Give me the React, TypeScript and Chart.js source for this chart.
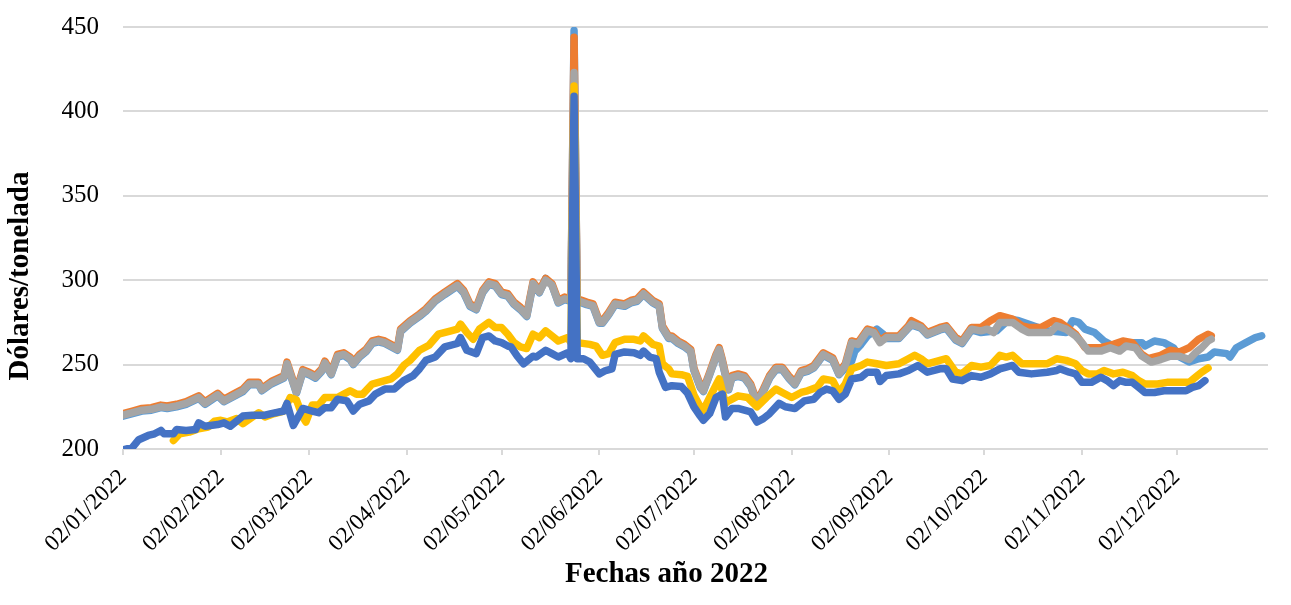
import React, { useEffect, useRef } from 'react';
import { Chart, registerables } from 'chart.js';

Chart.register(...registerables);

// ---- Ejes y textos ----
const fechaOrigen = '02/01/2022';
const fechaFinEje = '31/12/2022';
const etiquetasFechas = [
  '02/01/2022', '02/02/2022', '02/03/2022', '02/04/2022', '02/05/2022', '02/06/2022',
  '02/07/2022', '02/08/2022', '02/09/2022', '02/10/2022', '02/11/2022', '02/12/2022',
];
const tituloEjeX = 'Fechas año 2022';
const tituloEjeY = 'Dólares/tonelada';
const yMin = 200;
const yMax = 450;
const yPaso = 50;

// ---- Series (días desde 02/01/2022, valores en dólares/tonelada) ----
const diasGris = [0,3,6,9,12,14,17,20,24,26,30,32,35,38,40,43,44,47,51,52,55,57,59,61,63,64,66,68,70,72,73,75,77,79,81,83,87,88,91,94,96,99,102,106,108,110,112,114,116,118,120,122,124,126,128,130,132,134,136,138,140,142,143,144,147,149,151,152,154,156,159,161,163,165,168,170,171,173,174,176,178,180,181,183,184,186,188,189,190,192,193,195,197,199,201,203,205,207,209,211,213,215,217,219,222,225,227,229,231,233,236,238,240,242,246,249,250,253,255,259,261,264,266,269,272,274,276,278,282,285,287,291,294,296,299,302,304,306,310,313,316,318,321,323,326,329,332,335,338,340,342,344,345];
const valGris = [220,221.5,223,223.5,225,224.5,225.5,227,230.5,227,232,228.5,231.5,234.5,238.5,238.5,235,239,242.5,250.5,233.5,246,244.5,242.5,246.5,251,244.5,255,256,253.5,250.5,255,258,263,264,263,259,270,275,279,282,288,292,297,293,285,283,293,298,297,292,291,286,283,279,298,293,300,297,287,289,288,423,288,286,285,275,275,280,286,285,287,288,292,287,285,272,266,266,263,261,258,247,237,234.5,244.5,255,259,252,235.5,242.5,243.5,242.5,237.5,227,234.5,242.5,247.5,247.5,242.5,238.5,245.5,246.5,248.5,256,253,244.5,249.5,263,262,270,269,263,266,266,272,274,272,268,271,272,265,263,271,270,271,269,275,275,271,269,269,269,273,271,267,263,258,258,260,258,261,260,255,251.5,253,255,255,253,257,260,264,265];

const diasNaranja = [0,3,6,9,12,14,17,20,24,26,30,32,35,38,40,43,44,47,51,52,55,57,59,61,63,64,66,68,70,72,73,75,77,79,81,83,87,88,91,94,96,99,102,106,108,110,112,114,116,118,120,122,124,126,128,130,132,134,136,138,140,142,143,144,147,149,151,152,154,156,159,161,163,165,168,170,171,173,174,176,178,180,181,183,184,186,188,189,190,192,193,195,197,199,201,203,205,207,209,211,213,215,217,219,222,225,227,229,231,233,236,238,240,242,246,249,250,253,255,259,261,264,266,269,272,275,278,282,285,287,291,295,297,300,302,305,310,314,317,320,323,325,329,332,335,338,341,344,345];
const valNaranja = [221,222.5,224,224.5,226,225.5,226.5,228,231.5,228,233,229.5,232.5,235.5,239.5,239.5,236,240,243.5,251.5,234.5,247,245.5,243.5,247.5,252,245.5,256,257,254.5,251.5,256,259,264,265,264,260,271,276,280,283,289,293,298,294,286,284,294,299,298,293,292,287,284,280,299,294,301,298,288,290,289,444,289,287,286,276,276,281,287,286,288,289,293,288,286,273,267,267,264,262,259,248,238,235.5,245.5,256,260,253,236.5,243.5,244.5,243.5,238.5,228,235.5,243.5,248.5,248.5,243.5,239.5,246.5,247.5,249.5,257,254,245.5,250.5,264,263,271,270,264,267,267,273,276,273,269,272,273,266,264,272,272,276,279,277,273,272,272,276,275,271,268,260,260,262,264,263,256,253.5,255.5,258.5,257.5,260,265,268,267];

const diasCeleste = [0,3,6,9,12,14,17,20,24,26,30,32,35,38,40,43,44,47,51,52,55,57,59,61,63,64,66,68,70,72,73,75,77,79,81,83,87,88,91,94,96,99,102,106,108,110,112,114,116,118,120,122,124,126,128,130,132,134,136,138,140,142,143,144,147,149,151,152,154,156,159,161,163,165,168,170,171,173,174,176,178,180,181,183,184,186,188,189,190,192,193,195,197,199,201,203,205,207,209,211,213,215,217,219,222,225,227,229,231,232,234,236,239,241,242,246,249,250,253,255,259,261,264,266,269,272,277,281,284,287,293,299,301,303,305,308,311,314,317,320,323,324,327,330,333,335,338,341,344,346,350,351,353,356,359,361];
const valCeleste = [219.5,221,222.5,223,224.5,224,225,226.5,230,226.5,231.5,228,231,234,238,238,234.5,238.5,242,250,233,245.5,244,242,246,250.5,244,254.5,255.5,253,250,254.5,257.5,262.5,263.5,262.5,258.5,269.5,274.5,278.5,281.5,287.5,291.5,296.5,292.5,284.5,282.5,292.5,297.5,296.5,291.5,290.5,285.5,282.5,278.5,297.5,292.5,301,297,286.5,288.5,287.5,448,287.5,285.5,284.5,274.5,274.5,279.5,285.5,284.5,286.5,287.5,291.5,286.5,284.5,271.5,265.5,265.5,262.5,260.5,257.5,246.5,236.5,234,244,254.5,258.5,251.5,235,242,243,242,237,226.5,234,242,247,247,242,238,245,246,248,255.5,252.5,244,248,252,258,262,267,271,268,265.5,265.5,271.5,273.5,271.5,267.5,270.5,271.5,264.5,262.5,270.5,269,270,277,276,274,270,269,276,275,271,269,264,261,261,263,263,261,264,263,260,254.5,251.5,253.5,254.5,257.5,256.5,254.5,260,263,266,267];

const diasAmarillo = [16,18,21,24,27,29,31,33,36,38,43,45,48,51,53,55,57,58,60,62,64,68,70,72,74,76,79,81,85,87,89,91,94,97,100,104,106,107,109,111,113,116,118,120,122,124,126,128,130,132,134,136,138,141,142,143,144,148,150,152,154,156,159,162,164,165,168,170,171,173,174,177,179,181,183,184,186,189,191,192,195,198,201,204,207,209,212,215,217,220,222,225,227,229,231,234,236,239,242,246,249,251,253,255,259,261,264,266,269,272,275,278,280,282,285,288,293,296,299,302,304,306,309,311,314,317,320,322,324,328,331,335,338,340,342,344];
const valAmarillo = [205,209,210,212,213,216.5,217,216,218,215,221.5,219,221,222.5,230.5,229,219,216,226,226,230.5,230.5,232.5,234.5,232.5,232.5,238.5,239.5,241.5,244.5,249.5,252.5,258.5,261.5,268,270,271,274,269,265,271,275,272,272,268,263,260.5,259.5,268,266,270,267,264,266,263,415,263,262,261,255.5,256.5,263,265,265,264,267,262,261,250.5,247.5,244.5,244,243,232,225,223,230.5,241.5,227,228.5,231.5,230.5,225,230.5,235.5,233.5,230.5,233.5,234.5,236.5,241.5,240.5,233.5,238.5,247.5,249.5,251.5,250.5,249.5,250.5,253.5,255.5,253.5,250.5,252.5,253.5,245.5,244.5,249.5,248.5,249.5,255.5,254.5,255.5,250.5,250.5,250.5,253.5,252.5,250.5,246.5,244.5,244.5,246.5,244.5,245.5,243.5,240.5,238.5,238.5,239.5,239.5,239.5,242.5,245.5,248];

const diasAzul = [0,3,5,8,10,12,13,16,17,20,23,24,26,30,32,34,38,41,45,47,51,52,54,57,60,62,64,66,68,71,73,75,78,80,83,86,89,92,94,96,99,102,106,107,109,112,114,116,118,120,122,123,125,127,130,131,134,136,138,141,142,143,144,146,148,151,153,155,156,159,162,164,165,167,169,170,172,174,177,179,181,183,184,186,188,190,191,193,195,197,199,201,203,205,208,210,213,216,219,221,223,225,227,229,231,234,236,239,240,242,246,249,252,255,259,261,263,266,269,272,275,278,280,282,284,288,293,296,297,300,302,304,307,310,312,314,316,318,320,322,324,327,330,333,337,339,341,343];
const valAzul = [199.5,201,205.5,208,209,211,209,209,211.5,211,211.5,215.5,213.5,214.5,215.5,213.5,219.5,220,220,221,222.5,227,214,224,222.5,221.5,224.5,224.5,229.5,228.5,222.5,226.5,228.5,232.5,235.5,235.5,240.5,243.5,247.5,252.5,254.5,260.5,262.5,266,258.5,256.5,266,267,264,263,261,260.5,255,250.5,255,254.5,258.5,256.5,254.5,257,253.5,409,253.5,253.5,251.5,244.5,246.5,247.5,256,257.5,257,255.5,258,254.5,253.5,245.5,236.5,237.5,237,233,225,219.5,217,221,230.5,232.5,219,224,224,223,222,216,218,221,227,225,224,228.5,229.5,233.5,235.5,234.5,229.5,232.5,241.5,242.5,245.5,245.5,240,243.5,244.5,246.5,249.5,245.5,247.5,247.5,241.5,240.5,243.5,242.5,244.5,247.5,248.5,249.5,245.5,244.5,245.5,246.5,247.5,245.5,244.5,239.5,239.5,242.5,240.5,237.5,240.5,239.5,239.5,236.5,233.5,233.5,234.5,234.5,234.5,236.5,237.5,240.5];

const FUENTE = '"Liberation Serif", "Times New Roman", serif';

function diaDesdeOrigen(fecha: string): number {
  const [d, m, a] = fecha.split('/').map(Number);
  const [d0, m0, a0] = fechaOrigen.split('/').map(Number);
  return Math.round((Date.UTC(a, m - 1, d) - Date.UTC(a0, m0 - 1, d0)) / 86400000);
}

function puntos(dias: number[], valores: number[]) {
  return dias.map((x, i) => ({ x, y: valores[i] }));
}

const titulosPlugin = {
  id: 'titulosEjes',
  afterDraw(chart: any) {
    const { ctx, chartArea } = chart;
    ctx.save();
    ctx.fillStyle = '#000000';
    ctx.font = `bold 29px ${FUENTE}`;
    ctx.textAlign = 'center';
    ctx.textBaseline = 'alphabetic';
    const cx = (chartArea.left + chartArea.right) / 2 - 29;
    ctx.fillText(tituloEjeX, cx, chartArea.bottom + 133);
    ctx.translate(28, (chartArea.top + chartArea.bottom) / 2 + 38);
    ctx.rotate(-Math.PI / 2);
    ctx.fillText(tituloEjeY, 0, 0);
    ctx.restore();
  },
};

export default function App() {
  const ref = useRef<HTMLCanvasElement>(null);

  useEffect(() => {
    const canvas = ref.current;
    if (!canvas) return;
    const posTicks = etiquetasFechas.map(diaDesdeOrigen);
    const etiquetaPorDia: Record<number, string> = {};
    posTicks.forEach((p, i) => { etiquetaPorDia[p] = etiquetasFechas[i]; });

    const estilo = (color: string) => ({
      borderColor: color,
      backgroundColor: color,
      borderWidth: 7.5,
      pointRadius: 0,
      pointHoverRadius: 0,
      tension: 0,
      fill: false,
      borderJoinStyle: 'round' as const,
      borderCapStyle: 'round' as const,
    });

    const chart = new Chart(canvas, {
      type: 'line',
      data: {
        datasets: [
          { label: 'Serie 5', data: puntos(diasAzul, valAzul), ...estilo('#4472C4') },
          { label: 'Serie 4', data: puntos(diasAmarillo, valAmarillo), ...estilo('#FFC000') },
          { label: 'Serie 3', data: puntos(diasGris, valGris), ...estilo('#A5A5A5') },
          { label: 'Serie 2', data: puntos(diasNaranja, valNaranja), ...estilo('#ED7D31') },
          { label: 'Serie 1', data: puntos(diasCeleste, valCeleste), ...estilo('#5B9BD5') },
        ],
      },
      options: {
        responsive: false,
        animation: false,
        devicePixelRatio: 1,
        layout: { padding: { top: 27, right: 23, left: 0, bottom: 0 } },
        plugins: {
          legend: { display: false },
          tooltip: { enabled: false },
        },
        events: [],
        scales: {
          x: {
            type: 'linear',
            min: 0,
            max: diaDesdeOrigen(fechaFinEje),
            afterBuildTicks: (s: any) => {
              s.ticks = posTicks.map((v) => ({ value: v }));
            },
            afterFit: (s: any) => { s.height = 156; },
            ticks: {
              autoSkip: false,
              maxRotation: 45,
              minRotation: 45,
              padding: 9,
              color: '#000000',
              font: { family: FUENTE, size: 23 },
              callback: (v: any) => etiquetaPorDia[v as number] ?? '',
            },
            grid: {
              drawOnChartArea: false,
              drawTicks: true,
              tickLength: 6,
              color: '#D9D9D9',
              lineWidth: 2,
            },
            border: { display: false },
          },
          y: {
            min: yMin,
            max: yMax,
            afterFit: (s: any) => { s.width = 123; },
            ticks: {
              stepSize: yPaso,
              padding: 0,
              color: '#000000',
              font: { family: FUENTE, size: 25 },
            },
            grid: {
              color: '#D9D9D9',
              lineWidth: 2,
              drawTicks: true,
              tickLength: 24,
              tickColor: 'rgba(0,0,0,0)',
            },
            border: { display: false },
          },
        },
      },
      plugins: [titulosPlugin],
    });
    return () => chart.destroy();
  }, []);

  return (
    <div style={{ position: 'fixed', left: 0, top: 0, width: 1291, height: 605, background: '#ffffff' }}>
      <canvas ref={ref} width={1291} height={605} style={{ display: 'block', width: 1291, height: 605 }} />
    </div>
  );
}
